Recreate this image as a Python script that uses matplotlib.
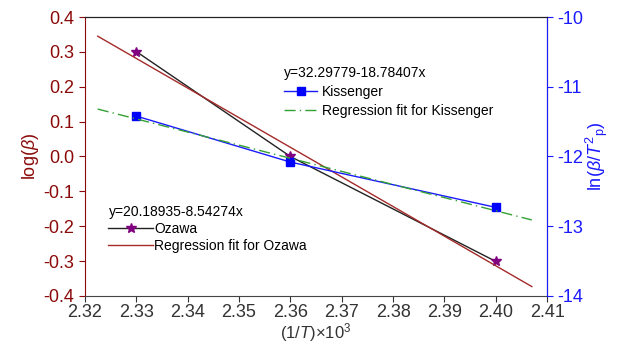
import matplotlib.pyplot as plt

plt.rcParams['font.family'] = ['Liberation Sans Narrow', 'Liberation Sans', 'DejaVu Sans']
plt.rcParams['mathtext.fontset'] = 'custom'
plt.rcParams['mathtext.rm'] = 'Liberation Sans'
plt.rcParams['mathtext.it'] = 'Liberation Sans:italic'

# data
inv_t = [2.33, 2.36, 2.40]
log_beta = [0.301, 0.0, -0.301]              # Ozawa
ln_beta_t2 = [-11.42, -12.08, -12.73]        # Kissenger
fit_x = [2.3225, 2.407]
ozawa_fit = [0.345, -0.373]
kiss_fit = [-11.32, -12.91]

dark_red = '#8b0a0a'
blue = '#1a1aff'

fig, ax = plt.subplots(figsize=(6.24, 3.47), dpi=100)
fig.subplots_adjust(left=0.136, right=0.877, bottom=0.147, top=0.951)
ax2 = ax.twinx()

l1, = ax.plot(inv_t, log_beta, color='#222222', lw=1, marker='*', ms=7,
              mfc='#800080', mec='#800080', label='Ozawa')
l2, = ax.plot(fit_x, ozawa_fit, color='#a52a2a', lw=1, label='Regression fit for Ozawa')

k1, = ax2.plot(inv_t, ln_beta_t2, color=blue, lw=1, marker='s', ms=6,
               mfc='#0000ff', mec='#0000ff', label='Kissenger')
k2, = ax2.plot(fit_x, kiss_fit, color='#33a033', lw=1, ls=(0, (8, 3, 1, 3)),
               label='Regression fit for Kissenger')

ax.set_xlim(2.32, 2.41)
ax.set_ylim(-0.4, 0.4)
ax2.set_ylim(-14, -10)
ax.set_xticks([2.32, 2.33, 2.34, 2.35, 2.36, 2.37, 2.38, 2.39, 2.40, 2.41])
ax.set_xticklabels(['2.32', '2.33', '2.34', '2.35', '2.36', '2.37', '2.38', '2.39', '2.40', '2.41'])
ax.set_yticks([0.4, 0.3, 0.2, 0.1, 0.0, -0.1, -0.2, -0.3, -0.4])
ax.set_yticklabels(['0.4', '0.3', '0.2', '0.1', '0.0', '-0.1', '-0.2', '-0.3', '-0.4'])
ax2.set_yticks([-10, -11, -12, -13, -14])
ax2.set_yticklabels(['-10', '-11', '-12', '-13', '-14'])

ax.tick_params(axis='x', direction='out', length=4, labelsize=13, colors='#333333', pad=2)
ax.tick_params(axis='y', direction='out', length=4, labelsize=13, colors=dark_red)
ax2.tick_params(axis='y', direction='out', length=4, labelsize=13, colors=blue)

ax.spines['left'].set_color(dark_red)
ax2.spines['left'].set_visible(False)
ax2.spines['right'].set_color(blue)
ax.spines['bottom'].set_color('#444444')
ax2.spines['bottom'].set_visible(False)
ax2.spines['top'].set_color('#222222')

ax.set_xlabel(r'(1/$T$)$\times$10$^3$', fontsize=12, color='#333333', labelpad=0)
ax.set_ylabel(r'log($\beta$)', fontsize=13, color=dark_red, labelpad=2)
ax2.set_ylabel(r'ln($\beta$/$T^{2}$$_{\rm p}$)', fontsize=13, color=blue, labelpad=0)

leg1 = ax2.legend(handles=[k1, k2], title='y=32.29779-18.78407x', loc='upper left',
                  bbox_to_anchor=(0.41, 0.86), frameon=False, fontsize=10,
                  title_fontsize=10, alignment='left', handlelength=2.4,
                  handletextpad=0.3, labelspacing=0.35, borderpad=0.2)
leg2 = ax2.legend(handles=[l1, l2], title='y=20.18935-8.54274x', loc='upper left',
                  bbox_to_anchor=(0.03, 0.36), frameon=False, fontsize=10,
                  title_fontsize=10, alignment='left', handlelength=3.2,
                  handletextpad=0.1, labelspacing=0.2, borderpad=0.2)
ax2.add_artist(leg1)

plt.savefig('out.png')
